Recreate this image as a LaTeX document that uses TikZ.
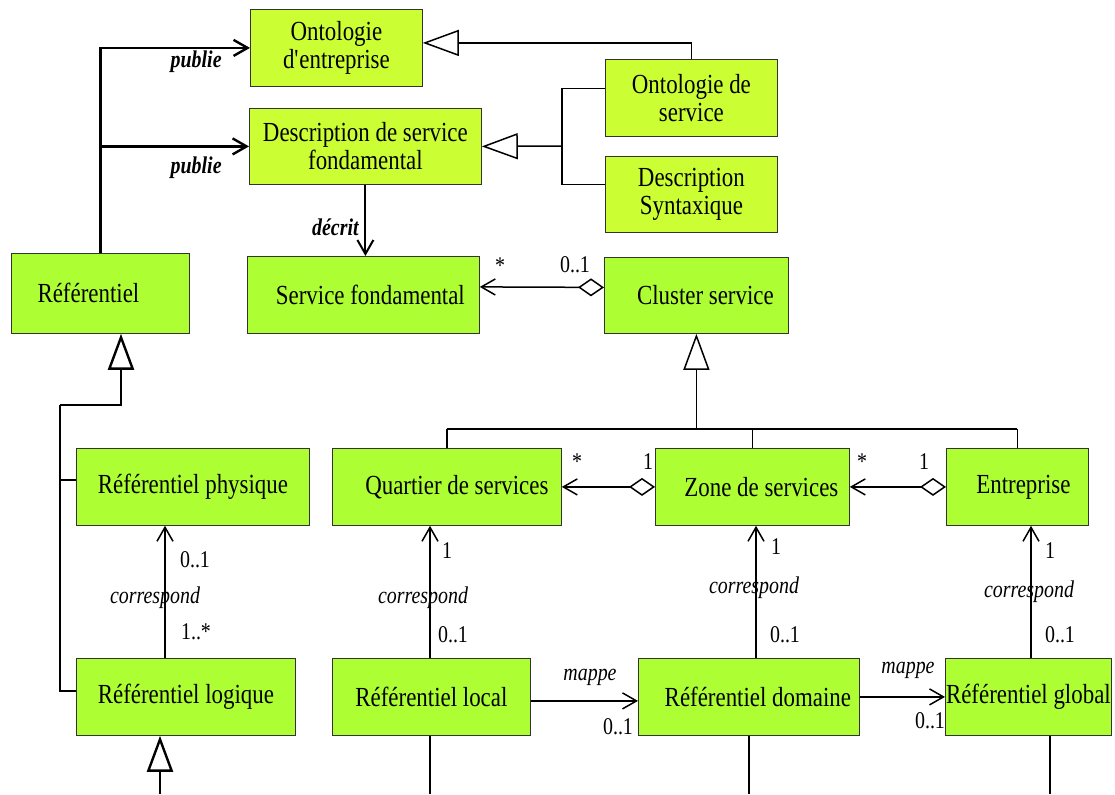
\documentclass[tikz,border=0pt]{standalone}
\usepackage{fontspec}
\setmainfont[FakeStretch=0.83]{Liberation Serif}
\usetikzlibrary{arrows.meta}

\definecolor{limeA}{RGB}{204,255,51}
\definecolor{limeB}{RGB}{173,255,51}

\begin{document}
\begin{tikzpicture}[x=0.5pt, y=-0.5pt,
    cls/.style  ={draw=black!80, fill=limeB, anchor=north west, inner sep=0pt, align=center, font=\fontsize{13.8}{14}\selectfont},
    topcls/.style={cls, fill=limeA},
    lbl/.style  ={font=\fontsize{12}{13}\selectfont\itshape},
    blbl/.style ={inner sep=0pt, font=\fontsize{12}{13}\selectfont\bfseries\itshape},
    mult/.style ={font=\fontsize{12}{13}\selectfont},
    ln/.style   ={line width=0.75pt},
    assoc/.style={ln, -{Straight Barb[length=7pt, width=8pt]}},
    gen/.style  ={ln, -{Triangle[open, length=18pt, width=13pt]}},
    agg/.style  ={ln, {Diamond[open, length=13pt, width=9pt]}-{Straight Barb[length=7pt, width=8pt]}},
  ]
  \useasboundingbox (0,0) rectangle (1115,794);

  % upper part: ontologies and descriptions
  \node[topcls, minimum width=86pt, minimum height=38.5pt] (onte) at (250,9) {Ontologie\\d\textquotesingle entreprise};
  \node[topcls, minimum width=116pt, minimum height=38pt] (dsf) at (249,108) {Description de service\\fondamental};
  \node[topcls, minimum width=86pt, minimum height=38.5pt] (onts) at (605,59) {Ontologie de\\service};
  \node[topcls, minimum width=86pt, minimum height=38pt] (dsyn) at (605,156) {Description\\Syntaxique};

  \node[cls, minimum width=89pt, minimum height=40pt] (ref) at (11,253) {Référentiel\hspace*{12pt}};
  \node[cls, minimum width=116pt, minimum height=38.5pt] (sfond) at (247,256) {\hspace*{7pt}Service fondamental};
  \node[cls, minimum width=92pt, minimum height=38pt] (clus) at (604,257) {\hspace*{9pt}Cluster service};

  % middle row
  \node[cls, minimum width=116.5pt, minimum height=38.5pt] (rphys) at (76,448) {Référentiel physique};
  \node[cls, minimum width=114.5pt, minimum height=38.5pt] (quart) at (332,448) {\hspace*{10pt}Quartier de services};
  \node[cls, minimum width=97pt, minimum height=38.5pt] (zone) at (655,448) {\hspace*{9pt}Zone de services};
  \node[cls, minimum width=71pt, minimum height=38.5pt] (entr) at (946,448) {\hspace*{6pt}Entreprise};

  % bottom row
  \node[cls, minimum width=109.5pt, minimum height=38.5pt] (rlog) at (76,658) {Référentiel logique};
  \node[cls, minimum width=99pt, minimum height=38.5pt] (rloc) at (332,658) {Référentiel local};
  \node[cls, minimum width=110.5pt, minimum height=38.5pt] (rdom) at (638,658) {\hspace*{9pt}Référentiel domaine};
  \node[cls, minimum width=83pt, minimum height=38.5pt] (rglob) at (945,658) {Référentiel global};

  % helper points
  \coordinate (j1) at (562,146);
  \coordinate (hb) at (0,429);
  \coordinate (rj) at (60,405);
  \coordinate (rb) at (121,0);
  \coordinate (lb) at (160,794);
  \coordinate (v1) at (165,0);
  \coordinate (v2) at (430,0);
  \coordinate (v3) at (756,0);
  \coordinate (v4) at (1031,0);
  \coordinate (bot) at (0,794);
  \coordinate (gb) at (1050,0);

  % publie / decrit
  \draw[ln, line width=1.2pt, -{Straight Barb[length=7pt, width=8pt]}] (ref.north) |- (onte.west);
  \draw[ln, line width=1.2pt, -{Straight Barb[length=7pt, width=8pt]}] (ref.north |- dsf.west) -- (dsf.west);
  \node[blbl, anchor=east] at (222,62) {publie};
  \node[blbl, anchor=east] at (222,168) {publie};
  \draw[assoc, line width=1pt] (dsf.south) -- (dsf.south |- sfond.north);
  \node[blbl, anchor=east] at (359,227) {décrit};

  % generalisations (haut)
  \draw[gen] (onts.north) |- ([yshift=2.5pt]onte.east);
  \draw[ln] ([yshift=4.75pt]onts.west) -| (j1) |- ([yshift=5pt]dsyn.west);
  \draw[gen] (j1) -- (dsf.east);

  % agregations
  \draw[agg] ([yshift=4pt]clus.west) -- ([yshift=4pt]sfond.east);
  \node[mult] at (500,266) {*};
  \node[mult] at (575,265) {0..1};
  \draw[agg] (zone.west) -- (quart.east);
  \node[mult] at (577,462) {*};
  \node[mult] at (648,462) {1};
  \draw[agg] (entr.west) -- (zone.east);
  \node[mult] at (862,462) {*};
  \node[mult] at (924,462) {1};

  % Cluster service et ses sous-classes
  \draw[gen] (clus.south |- hb) -- (clus.south);
  \draw[ln] (quart.north |- hb) -- (entr.north |- hb);
  \foreach \n in {quart,zone,entr}{ \draw[ln] (\n.north |- hb) -- (\n.north); }

  % Referentiel et ses sous-classes
  \draw[gen, line width=1.2pt] (rj) -| (ref.south -| rb);
  \draw[ln, line width=1.2pt] (rj) |- ([yshift=3pt]rlog.west);
  \draw[ln, line width=1.2pt] (rj |- rphys.west) ++(0,-7) -- ([yshift=3.5pt]rphys.west);
  \draw[gen, line width=1.2pt] (lb) -- (lb |- rlog.south);

  % correspond
  \draw[assoc] (rlog.north -| v1) -- (rphys.south -| v1);
  \node[mult] at (195,560) {0..1};
  \node[lbl] at (155,598) {correspond};
  \node[mult] at (196,632) {1..*};

  \draw[assoc] (rloc.north -| v2) -- (quart.south -| v2);
  \node[mult] at (447,551) {1};
  \node[lbl] at (423,598) {correspond};
  \node[mult] at (453,635) {0..1};

  \draw[assoc] (rdom.north -| v3) -- (zone.south -| v3);
  \node[mult] at (776,547) {1};
  \node[lbl] at (754,588) {correspond};
  \node[mult] at (785,635) {0..1};

  \draw[assoc] (rglob.north -| v4) -- (entr.south -| v4);
  \node[mult] at (1050,551) {1};
  \node[lbl] at (1029,592) {correspond};
  \node[mult] at (1060,635) {0..1};

  % mappe
  \draw[assoc] ([yshift=-2pt]rloc.east) -- ([yshift=-2pt]rdom.west);
  \node[lbl] at (590,677) {mappe};
  \node[mult] at (618,727) {0..1};
  \draw[assoc] (rdom.east) -- (rglob.west);
  \node[lbl] at (908,670) {mappe};
  \node[mult] at (930,721) {0..1};

  % lignes vers le bas
  \draw[ln] (rloc.south -| v2) -- (bot -| v2);
  \draw[ln] (rdom.south) -- (bot -| rdom.south);
  \draw[ln] (rglob.south -| gb) -- (bot -| gb);
\end{tikzpicture}
\end{document}
